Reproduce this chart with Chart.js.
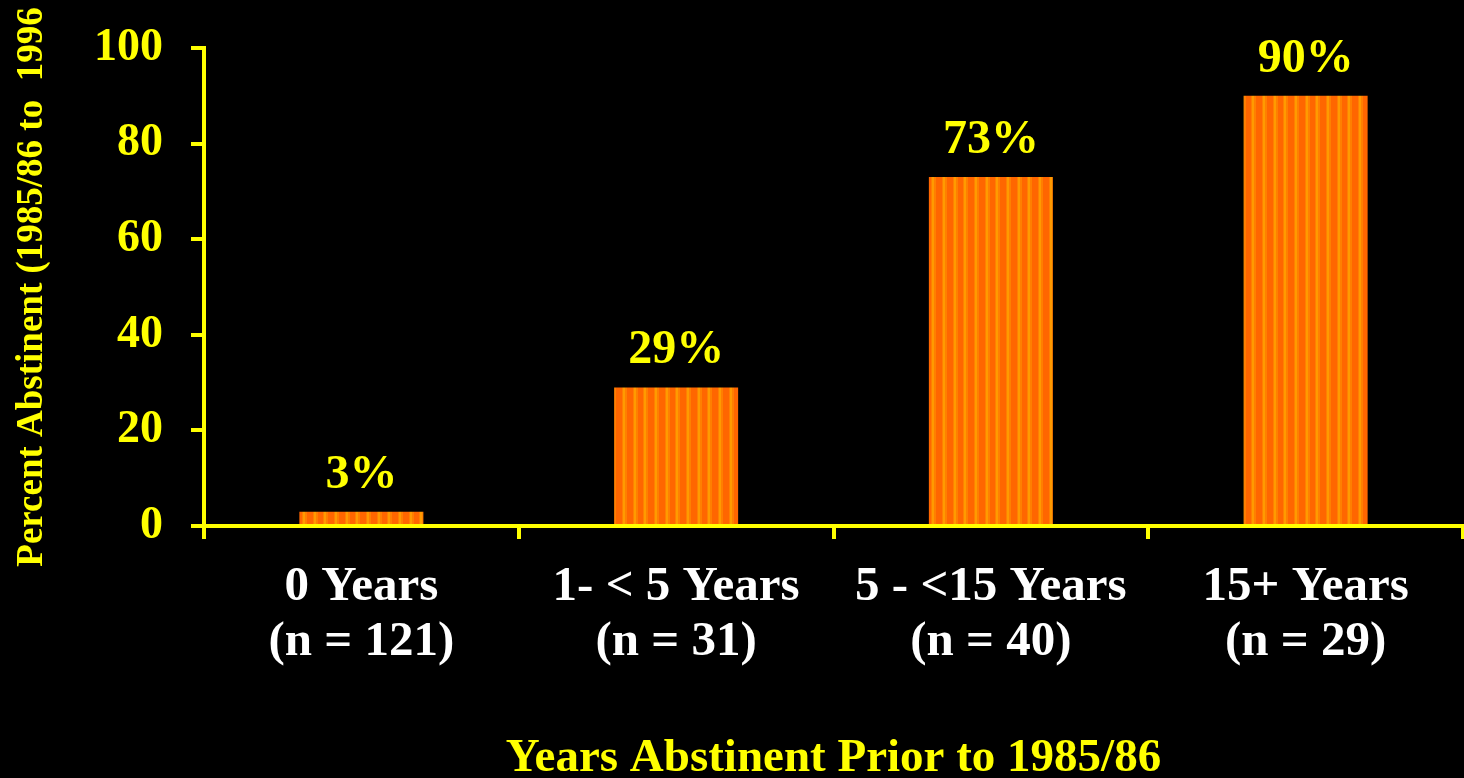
<!DOCTYPE html>
<html>
<head>
<meta charset="utf-8">
<script src="https://cdn.jsdelivr.net/npm/chart.js@4/dist/chart.umd.min.js"></script>
<style>
  html, body { margin: 0; padding: 0; background: #000; }
  #wrap { width: 1464px; height: 778px; position: relative; }
</style>
</head>
<body>
<div id="wrap"><canvas id="chart"></canvas></div>
<script>
// Abstinence outcome by years abstinent before the baseline survey
const categories = [
  ['0 Years', '(n = 121)'],
  ['1- < 5 Years', '(n = 31)'],
  ['5 - <15 Years', '(n = 40)'],
  ['15+ Years', '(n = 29)']
];
const percentAbstinent = [3, 29, 73, 90];
const yTicks = [0, 20, 40, 60, 80, 100];

const YELLOW = '#FFFF00';
const SERIF = '"Liberation Serif", "Times New Roman", serif';

// Orange fill with fine vertical light stripes
function stripePattern(ctx) {
  const c = document.createElement('canvas');
  c.width = 32; c.height = 8;
  const g = c.getContext('2d');
  g.fillStyle = '#FF6600';
  g.fillRect(0, 0, 32, 8);
  [5, 16, 27].forEach(cx => {
    g.fillStyle = '#FF7F00';
    g.fillRect(cx - 2, 0, 5, 8);
    g.fillStyle = '#FF9A00';
    g.fillRect(cx - 1, 0, 2, 8);
  });
  return ctx.createPattern(c, 'repeat');
}

// Writes the percentage above each bar
const valueLabels = {
  id: 'valueLabels',
  afterDatasetsDraw(chart) {
    const { ctx } = chart;
    const meta = chart.getDatasetMeta(0);
    ctx.save();
    ctx.font = 'bold 48px ' + SERIF;
    ctx.fillStyle = YELLOW;
    ctx.textAlign = 'center';
    ctx.textBaseline = 'alphabetic';
    meta.data.forEach((bar, i) => {
      ctx.fillText(percentAbstinent[i] + '%', bar.x, bar.y - 24);
    });
    ctx.restore();
  }
};

const canvas = document.getElementById('chart');
const ctx = canvas.getContext('2d');

new Chart(ctx, {
  type: 'bar',
  data: {
    labels: categories,
    datasets: [{
      data: percentAbstinent,
      backgroundColor: stripePattern(ctx),
      borderWidth: 0,
      categoryPercentage: 1,
      barPercentage: 0.394
    }]
  },
  options: {
    responsive: true,
    maintainAspectRatio: false,
    animation: false,
    layout: { padding: { top: 48, right: 1, bottom: 0, left: 0 } },
    plugins: { legend: { display: false }, tooltip: { enabled: false } },
    scales: {
      x: {
        grid: {
          display: true,
          drawOnChartArea: false,
          drawTicks: true,
          tickLength: 13,
          lineWidth: 4,
          color: YELLOW
        },
        border: { display: true, color: YELLOW, width: 4 },
        ticks: {
          color: '#FFFFFF',
          padding: 21,
          maxRotation: 0,
          font: { family: SERIF, size: 49, weight: 'bold', lineHeight: '55px' }
        },
        title: {
          display: true,
          text: 'Years Abstinent Prior to 1985/86',
          color: YELLOW,
          padding: { top: 0, bottom: -9 },
          font: { family: SERIF, size: 47, weight: 'bold', lineHeight: 1.2 }
        },
        afterFit(scale) { scale.height = 252; }
      },
      y: {
        min: 0,
        max: 100,
        afterBuildTicks(scale) { scale.ticks = yTicks.map(v => ({ value: v })); },
        grid: {
          display: true,
          drawOnChartArea: false,
          drawTicks: true,
          tickLength: 13,
          lineWidth: 4,
          color: YELLOW
        },
        border: { display: true, color: YELLOW, width: 4 },
        ticks: {
          color: YELLOW,
          padding: 28,
          font: { family: SERIF, size: 46, weight: 'bold' }
        },
        title: {
          display: true,
          text: 'Percent Abstinent (1985/86 to  1996',
          color: YELLOW,
          padding: { top: 10, bottom: 0 },
          font: { family: SERIF, size: 37, weight: 'bold', lineHeight: 1.2 }
        },
        afterFit(scale) {
          scale.width = 204;
          scale.paddingTop = 0;
          scale.paddingBottom = 0;
        }
      }
    }
  },
  plugins: [valueLabels]
});
</script>
</body>
</html>
